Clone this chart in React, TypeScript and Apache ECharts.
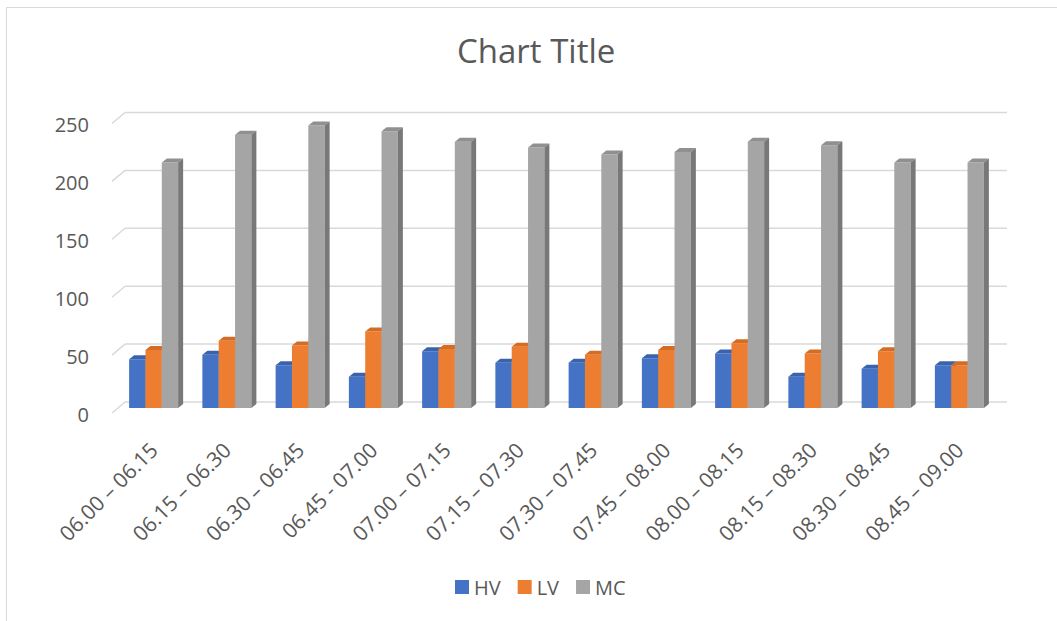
import React, { useEffect, useRef } from "react";
import * as echarts from "echarts";

const categories = [
  "06.00 – 06.15",
  "06.15 – 06.30",
  "06.30 – 06.45",
  "06.45 - 07.00",
  "07.00 – 07.15",
  "07.15 – 07.30",
  "07.30 – 07.45",
  "07.45 – 08.00",
  "08.00 – 08.15",
  "08.15 – 08.30",
  "08.30 – 08.45",
  "08.45 – 09.00",
];
const hvValues = [42, 46, 37, 27, 49, 39, 39, 43, 47, 27, 34, 37];
const lvValues = [50, 58, 54, 66, 51, 53, 46, 50, 56, 47, 49, 37];
const mcValues = [212, 236, 244, 239, 230, 225, 219, 221, 230, 227, 212, 212];
const yTicks = [0, 50, 100, 150, 200, 250];
const seriesNames = ["HV", "LV", "MC"];

const FONT = "'Open Sans', 'Liberation Sans', sans-serif";
const TEXT = "#595959";

const palettes = [
  { front: "#4472C4", top: "#3a63ad", side: "#30569a" },
  { front: "#ED7D31", top: "#d46c24", side: "#bd5f1c" },
  { front: "#A5A5A5", top: "#909090", side: "#787878" },
];

export default function App() {
  const ref = useRef<HTMLDivElement>(null);
  useEffect(() => {
    if (!ref.current) return;
    const chart = echarts.init(ref.current, undefined, { renderer: "svg" });
    const DX = 5;
    const DY = 4;

    const makeBarSeries = (name: string, values: number[], k: number) => ({
      name,
      type: "custom",
      z: 3 + k,
      itemStyle: { color: palettes[k].front },
      encode: { x: 0, y: 1 },
      data: values.map((v, i) => [i, v]),
      renderItem: (params: any, api: any) => {
        const idx = api.value(0);
        const val = api.value(1);
        const top = api.coord([idx, val]);
        const base = api.coord([idx, 0]);
        const cw = api.size([1, 0])[0];
        const w = cw * 0.223;
        const x = top[0] - 1.5 * w + k * w;
        const yt = top[1];
        const yb = base[1];
        const p = palettes[k];
        return {
          type: "group",
          children: [
            {
              type: "rect",
              shape: { x, y: yt, width: w, height: yb - yt },
              style: { fill: p.front },
            },
            {
              type: "polygon",
              shape: {
                points: [
                  [x, yt],
                  [x + DX, yt - DY],
                  [x + w + DX, yt - DY],
                  [x + w, yt],
                ],
              },
              style: { fill: p.top },
            },
            {
              type: "polygon",
              shape: {
                points: [
                  [x + w, yt],
                  [x + w + DX, yt - DY],
                  [x + w + DX, yb - DY],
                  [x + w, yb],
                ],
              },
              style: { fill: p.side },
            },
          ],
        };
      },
    });

    const option: any = {
      animation: false,
      backgroundColor: "#ffffff",
      title: {
        text: "Chart Title",
        left: 452,
        top: 29,
        textStyle: {
          fontFamily: FONT,
          fontSize: 33,
          fontWeight: "normal",
          color: TEXT,
        },
      },
      legend: {
        data: seriesNames,
        left: 450,
        top: 572,
        icon: "rect",
        itemWidth: 14,
        itemHeight: 14,
        itemGap: 17,
        textStyle: { fontFamily: FONT, fontSize: 20, color: TEXT },
      },
      grid: { left: 117, right: 61, top: 118.5, bottom: 213 },
      xAxis: {
        type: "category",
        data: categories,
        axisLine: { show: false },
        axisTick: { show: false },
        splitLine: { show: false },
        axisLabel: {
          interval: 0,
          rotate: 45,
          margin: 38,
          fontFamily: FONT,
          fontSize: 21,
          color: TEXT,
        },
      },
      yAxis: {
        type: "value",
        min: 0,
        max: 250,
        interval: 50,
        axisLine: { show: false },
        axisTick: { show: false },
        splitLine: { show: false },
        axisLabel: {
          margin: 28,
          fontFamily: FONT,
          fontSize: 20,
          color: TEXT,
          verticalAlign: "top",
          lineHeight: 12,
        },
      },
      graphic: [
        {
          type: "rect",
          silent: true,
          shape: { x: 6.5, y: 7.5, width: 1060, height: 620 },
          style: { fill: "none", stroke: "#d9d9d9", lineWidth: 1 },
        },
      ],
      series: [
        {
          name: "walls",
          type: "custom",
          silent: true,
          z: 1,
          encode: { x: 0, y: 1 },
          data: yTicks.map((v) => [0, v]),
          renderItem: (params: any, api: any) => {
            const v = api.value(1);
            const y = api.coord([0, v])[1];
            const cs = params.coordSys;
            const yf = y + 5;
            const yk = y - 6;
            const xf = cs.x - 5;
            const xk = cs.x + 8;
            const xe = cs.x + cs.width + 11;
            return {
              type: "group",
              children: [
                {
                  type: "line",
                  shape: { x1: xf, y1: yf, x2: xk, y2: yk },
                  style: { stroke: "#d9d9d9", lineWidth: 1.5 },
                },
                {
                  type: "line",
                  shape: { x1: xk, y1: yk, x2: xe, y2: yk },
                  style: { stroke: "#d9d9d9", lineWidth: 1.5 },
                },
              ],
            };
          },
        },
        makeBarSeries("HV", hvValues, 0),
        makeBarSeries("LV", lvValues, 1),
        makeBarSeries("MC", mcValues, 2),
      ],
    };
    chart.setOption(option);
    return () => chart.dispose();
  }, []);
  return (
    <div
      ref={ref}
      style={{ position: "fixed", left: 0, top: 0, width: 1057, height: 621 }}
    />
  );
}
